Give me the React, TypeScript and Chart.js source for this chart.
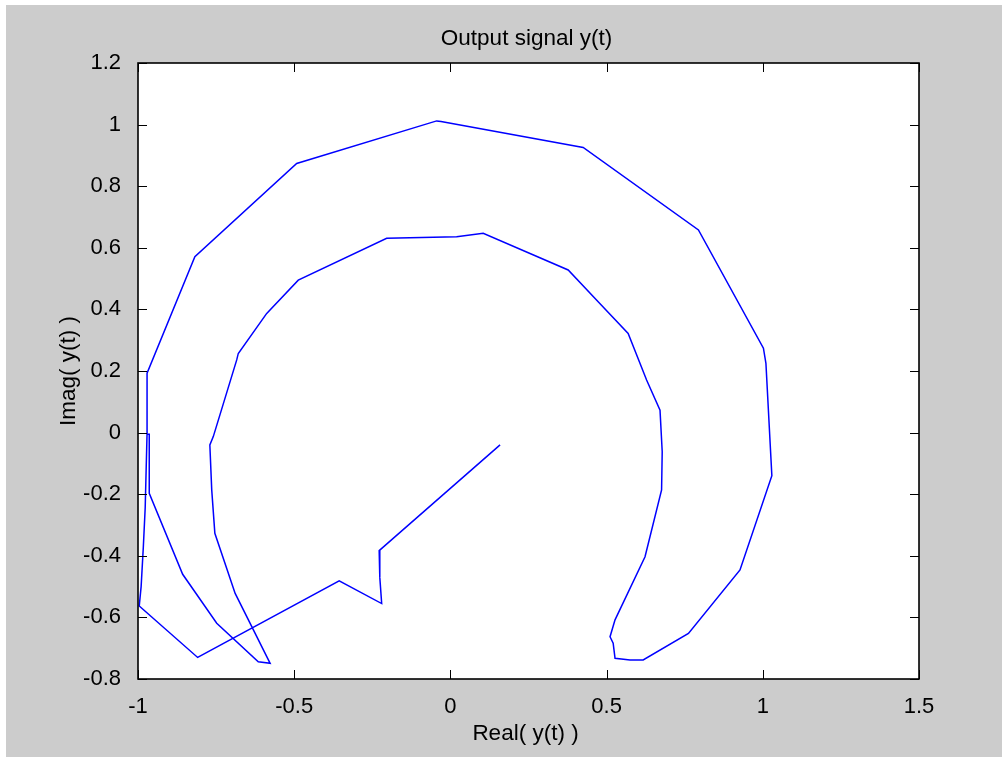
import React, { useEffect, useRef } from "react";
import { Chart, registerables } from "chart.js";

Chart.register(...registerables);

// Trajectory of the complex output y(t): real and imaginary parts, in drawing order.
const realPart = [
  0.159, -0.228, -0.226, -0.220, -0.356, -0.809, -0.996, -0.990, -0.983, -0.977,
  -0.971, -0.971, -0.818, -0.492, -0.044, -0.030, 0.425, 0.794, 1.002, 1.010,
  1.029, 0.927, 0.762, 0.617, 0.575, 0.527, 0.521, 0.511, 0.527, 0.623,
  0.676, 0.678, 0.671, 0.628, 0.569, 0.473, 0.377, 0.105, 0.020, -0.204,
  -0.487, -0.588, -0.679, -0.684, -0.759, -0.770, -0.764, -0.754, -0.689, -0.577,
  -0.615, -0.748, -0.857, -0.964, -0.964, -0.972,
];
const imagPart = [
  -0.040, -0.383, -0.470, -0.555, -0.481, -0.730, -0.563, -0.500, -0.372, -0.245,
  -0.002, 0.193, 0.571, 0.874, 1.012, 1.010, 0.926, 0.658, 0.274, 0.225,
  -0.140, -0.446, -0.652, -0.738, -0.738, -0.733, -0.684, -0.663, -0.608, -0.403,
  -0.186, -0.062, 0.073, 0.171, 0.322, 0.425, 0.528, 0.647, 0.636, 0.631,
  0.495, 0.387, 0.257, 0.236, -0.013, -0.040, -0.186, -0.327, -0.522, -0.749,
  -0.744, -0.619, -0.460, -0.197, -0.005, -0.005,
];

// Axis ranges and tick spacing
const xRange = [-1, 1.5];
const yRange = [-0.8, 1.2];
const xStep = 0.5;
const yStep = 0.2;
const xTickValues = [-1, -0.5, 0, 0.5, 1, 1.5];
const yTickValues = [-0.8, -0.6, -0.4, -0.2, 0, 0.2, 0.4, 0.6, 0.8, 1, 1.2];

const titleText = "Output signal y(t)";
const xLabelText = "Real( y(t) )";
const yLabelText = "Imag( y(t) )";

const FONT = "'Liberation Sans', Arial, Helvetica, sans-serif";
const W = 1002;
const H = 757;

// Shortest decimal form of a tick value: 1 instead of 1.0, -0.5, 0.2 ...
const formatTick = (v: number | string) => `${parseFloat(Number(v).toFixed(4))}`;

const axesPlugin = {
  id: "matlabAxes",
  beforeDatasetsDraw(chart: any) {
    const { ctx, chartArea } = chart;
    ctx.save();
    ctx.fillStyle = "#ffffff";
    ctx.fillRect(
      chartArea.left,
      chartArea.top,
      chartArea.right - chartArea.left,
      chartArea.bottom - chartArea.top
    );
    ctx.restore();
  },
  afterDatasetsDraw(chart: any) {
    const { ctx, chartArea, scales } = chart;
    const { left, right, top, bottom } = chartArea;
    const tickLen = 9;
    ctx.save();
    ctx.strokeStyle = "#000000";
    ctx.lineWidth = 1;
    ctx.beginPath();
    xTickValues.forEach((v) => {
      const px = Math.round(scales.x.getPixelForValue(v)) + 0.5;
      ctx.moveTo(px, bottom);
      ctx.lineTo(px, bottom - tickLen);
      ctx.moveTo(px, top);
      ctx.lineTo(px, top + tickLen);
    });
    yTickValues.forEach((v) => {
      const py = Math.round(scales.y.getPixelForValue(v)) + 0.5;
      ctx.moveTo(left, py);
      ctx.lineTo(left + tickLen, py);
      ctx.moveTo(right, py);
      ctx.lineTo(right - tickLen, py);
    });
    ctx.stroke();
    ctx.lineWidth = 1.6;
    ctx.strokeRect(left, top, right - left, bottom - top);
    ctx.restore();
  },
  afterDraw(chart: any) {
    const { ctx, chartArea } = chart;
    const cx = (chartArea.left + chartArea.right) / 2;
    const cy = (chartArea.top + chartArea.bottom) / 2;
    ctx.save();
    ctx.fillStyle = "#000000";
    ctx.font = `22.5px ${FONT}`;
    ctx.textAlign = "center";
    ctx.textBaseline = "alphabetic";
    ctx.fillText(titleText, cx - 2, 45);
    ctx.fillText(xLabelText, cx - 3, 740);
    ctx.translate(75, cy);
    ctx.rotate(-Math.PI / 2);
    ctx.fillText(yLabelText, 0, 0);
    ctx.restore();
  },
};

export default function App() {
  const canvasRef = useRef<HTMLCanvasElement | null>(null);

  useEffect(() => {
    const canvas = canvasRef.current;
    if (!canvas) return;
    const points = realPart.map((re, i) => ({ x: re, y: imagPart[i] }));
    const tickFont = { family: FONT, size: 22 };
    const chart = new Chart(canvas, {
      type: "scatter",
      data: {
        datasets: [
          {
            data: points,
            showLine: true,
            borderColor: "#0000ff",
            backgroundColor: "#0000ff",
            borderWidth: 1.5,
            pointRadius: 0,
            pointHoverRadius: 0,
            tension: 0,
          },
        ],
      },
      options: {
        animation: false,
        responsive: false,
        devicePixelRatio: 1,
        events: [],
        layout: { padding: { left: 0, top: 63, right: 83, bottom: 0 } },
        plugins: {
          legend: { display: false },
          tooltip: { enabled: false },
          title: { display: false },
        },
        scales: {
          x: {
            type: "linear",
            min: xRange[0],
            max: xRange[1],
            grid: { display: false },
            border: { display: false },
            ticks: {
              stepSize: xStep,
              font: tickFont,
              color: "#000000",
              padding: 7,
              maxRotation: 0,
              callback: (v: number | string) => formatTick(v),
            },
            afterFit: (scale: any) => {
              scale.height = 78;
            },
          },
          y: {
            type: "linear",
            min: yRange[0],
            max: yRange[1],
            grid: { display: false },
            border: { display: false },
            ticks: {
              stepSize: yStep,
              font: tickFont,
              color: "#000000",
              padding: 9,
              callback: (v: number | string) => formatTick(v),
            },
            afterFit: (scale: any) => {
              scale.width = 138;
            },
          },
        },
      },
      plugins: [axesPlugin],
    });
    return () => chart.destroy();
  }, []);

  return (
    <div style={{ position: "absolute", left: 0, top: 0, width: W, height: H, background: "#ffffff", overflow: "hidden" }}>
      <div style={{ position: "absolute", left: 6, top: 5, width: W - 6, height: H - 5, background: "#cccccc" }} />
      <canvas
        ref={canvasRef}
        width={W}
        height={H}
        style={{ position: "absolute", left: 0, top: 0, width: W, height: H }}
      />
    </div>
  );
}
